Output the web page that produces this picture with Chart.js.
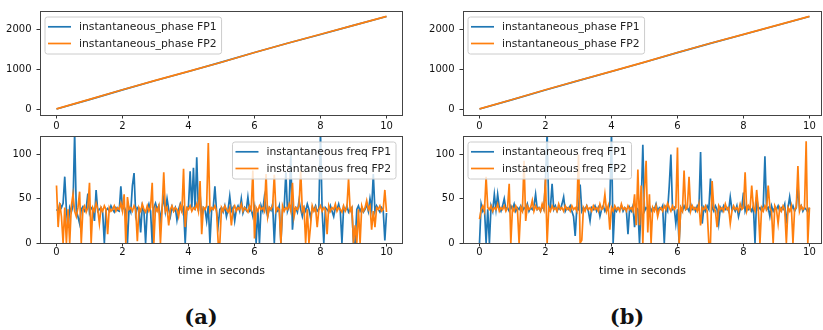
<!DOCTYPE html>
<html>
<head>
<meta charset="utf-8">
<script src="https://cdn.jsdelivr.net/npm/chart.js@4.4.1/dist/chart.umd.min.js"></script>
<style>
  html, body { margin:0; padding:0; background:#fff; width:823px; height:330px; overflow:hidden; }
  canvas { position:absolute; }
  .cap { position:absolute; font-family:"DejaVu Serif", serif; font-weight:bold; font-size:21px; color:#111; transform:translate(-50%,-50%); white-space:nowrap; }
</style>
</head>
<body>
<canvas id="tl" width="410" height="135" style="left:0px;top:0px"></canvas>
<canvas id="bl" width="410" height="155" style="left:0px;top:125px"></canvas>
<canvas id="tr" width="403" height="135" style="left:420px;top:0px"></canvas>
<canvas id="br" width="403" height="155" style="left:420px;top:125px"></canvas>
<div class="cap" style="left:201px;top:316px">(a)</div>
<div class="cap" style="left:627px;top:316px">(b)</div>
<script>
// ---------- data ----------
const phaseTimes = [0,1,2,3,4,5,6,7,8,9,10];
const phaseA_FP1 = [15,248,490,722,948,1180,1418,1648,1868,2092,2315];
const phaseA_FP2 = [18,252,494,725,950,1178,1420,1650,1872,2094,2318];
const phaseB_FP1 = [14,246,488,720,946,1176,1416,1646,1866,2090,2313];
const phaseB_FP2 = [17,250,492,724,949,1179,1419,1649,1870,2093,2317];

// sample times of the frequency series (0 .. 10 s, 0.05 s apart)
const freqTimes = Array.from({length: 201}, (_, i) => +(i * 0.05).toFixed(2));

const freqA_FP1 = [
  38,36,44,40,45,75,38,17,40,35,42,125,36,30,22,38,41,36,39,56,
  34,40,38,25,60,36,38,40,34,0,37,39,36,42,38,35,40,37,36,64,
  38,41,36,0,40,35,65,79,32,40,38,12,42,36,0,38,44,36,0,40,
  45,38,42,25,40,52,36,50,38,30,41,36,40,26,38,44,36,40,0,38,
  42,81,40,85,37,97,36,55,30,40,38,25,42,0,37,40,64,36,20,38,
  40,35,42,30,38,53,36,40,25,38,42,36,50,34,40,37,52,36,38,30,
  40,0,38,0,42,36,52,38,30,40,37,44,0,38,36,42,0,38,40,80,
  36,42,100,15,38,40,35,48,38,30,40,36,44,38,28,40,37,42,36,38,
  125,36,0,40,38,35,42,36,30,40,38,44,36,0,40,37,42,35,38,40,
  0,0,38,42,36,40,35,38,44,36,50,38,78,36,42,38,35,40,37,3,
  34];
const freqA_FP2 = [
  65,18,45,30,0,40,0,38,0,42,55,36,30,40,58,0,38,42,35,40,
  68,0,40,36,45,38,22,40,36,42,38,10,40,36,38,42,36,40,38,45,
  36,55,0,52,38,40,36,42,38,2,40,36,44,38,35,42,36,40,68,0,
  40,36,42,0,38,80,36,40,20,38,42,36,40,38,30,42,36,84,18,40,
  38,42,36,40,38,44,36,70,10,40,38,42,113,36,40,38,42,36,0,0,
  40,36,42,38,35,40,20,38,42,36,40,38,44,36,40,38,35,42,38,82,
  5,40,36,42,38,40,36,78,30,40,38,42,77,36,40,38,0,42,36,40,
  38,44,36,68,30,40,38,42,82,36,40,0,38,0,20,42,36,40,18,38,
  42,36,40,38,10,42,36,40,38,44,36,40,38,35,42,36,40,73,36,40,
  0,20,0,38,0,42,36,40,48,38,42,15,36,18,40,38,42,36,38,60,
  35];
const freqB_FP1 = [
  0,44,36,40,0,38,0,42,36,55,38,55,40,36,42,50,38,40,36,42,
  38,44,36,40,38,42,36,40,38,44,36,40,38,42,55,38,40,36,42,38,
  70,125,36,40,67,38,42,36,40,38,44,52,36,40,38,42,36,30,8,40,
  38,66,36,40,38,42,36,25,40,38,42,36,40,30,38,42,36,40,38,44,
  125,0,40,36,40,38,42,36,40,38,10,40,36,42,18,40,38,0,42,111,
  36,40,38,42,36,40,38,44,36,40,38,42,0,40,36,64,100,38,40,22,
  38,0,40,36,42,38,40,36,44,38,40,36,42,38,103,22,40,36,42,38,
  73,40,36,42,38,22,40,36,42,38,40,36,52,38,40,36,42,30,38,40,
  57,36,42,38,40,36,42,0,52,38,40,36,42,98,38,40,30,42,36,40,
  38,42,36,40,38,44,22,40,52,38,42,36,40,65,38,42,36,40,38,35,
  40];
const freqB_FP2 = [
  27,38,42,36,75,40,38,42,36,40,38,44,36,40,38,42,36,40,67,0,
  40,36,42,38,0,40,36,93,25,42,38,40,48,36,42,38,40,36,44,38,
  73,0,40,36,42,38,40,36,44,38,40,36,42,38,40,36,42,38,40,36,
  100,0,3,40,36,42,38,40,36,42,38,40,36,44,38,40,55,36,42,15,
  40,36,42,38,40,36,44,38,40,36,42,38,40,36,55,20,83,20,65,0,
  60,93,12,55,0,40,36,42,30,38,40,36,42,38,45,40,36,42,38,40,
  108,0,40,36,82,38,40,75,36,42,38,40,36,44,20,40,38,42,36,0,
  0,70,40,36,18,42,38,40,36,44,38,40,22,36,42,38,40,36,44,38,
  40,80,36,42,38,65,40,36,60,38,0,40,36,42,38,65,40,36,0,42,
  38,22,40,36,42,38,0,40,36,42,0,38,40,87,36,42,38,40,115,0,
  40];

const timeTicks  = [0,2,4,6,8,10];
const phaseTicks = [0,1000,2000];
const freqTicks  = [0,50,100];
const phaseLabels = ['instantaneous_phase FP1','instantaneous_phase FP2'];
const freqLabels  = ['instantaneous freq FP1','instantaneous freq FP2'];
const xTitle = 'time in seconds';

// ---------- styling ----------
const BLUE = '#1f77b4', ORANGE = '#ff7f0e';
Chart.defaults.font.family = '"DejaVu Sans", sans-serif';
Chart.defaults.color = '#111';

const framePlugin = {
  id: 'mplFrame',
  afterDatasetsDraw(chart) {
    const o = chart.options.plugins.mplFrame || {};
    const a = chart.chartArea, ctx = chart.ctx;
    // legend box
    ctx.save();
    ctx.font = '10.8px "DejaVu Sans"';
    const labels = chart.data.datasets.map(d => d.label);
    const tw = Math.max(...labels.map(l => ctx.measureText(l).width));
    const padL = 3, hl = 23, tp = 8, padR = 5;
    const w = padL + hl + tp + tw + padR, h = 37;
    const x = o.legend === 'right' ? a.right - 7 - w : a.left + 5;
    const y = a.top + 6;
    const r = 2.5;
    ctx.beginPath();
    ctx.moveTo(x + r, y);
    ctx.lineTo(x + w - r, y); ctx.quadraticCurveTo(x + w, y, x + w, y + r);
    ctx.lineTo(x + w, y + h - r); ctx.quadraticCurveTo(x + w, y + h, x + w - r, y + h);
    ctx.lineTo(x + r, y + h); ctx.quadraticCurveTo(x, y + h, x, y + h - r);
    ctx.lineTo(x, y + r); ctx.quadraticCurveTo(x, y, x + r, y);
    ctx.closePath();
    ctx.fillStyle = 'rgba(255,255,255,0.8)';
    ctx.fill();
    ctx.strokeStyle = '#cccccc'; ctx.lineWidth = 1;
    ctx.stroke();
    chart.data.datasets.forEach((d, i) => {
      const cy = y + 9.8 + i * 16.7;
      ctx.strokeStyle = d.borderColor; ctx.lineWidth = 1.7;
      ctx.beginPath(); ctx.moveTo(x + padL, cy); ctx.lineTo(x + padL + hl, cy); ctx.stroke();
      ctx.fillStyle = '#222'; ctx.textBaseline = 'middle'; ctx.textAlign = 'left';
      ctx.fillText(d.label, x + padL + hl + tp, cy + 0.5);
    });
    // axes frame
    ctx.strokeStyle = '#444'; ctx.lineWidth = 1;
    ctx.strokeRect(Math.round(a.left) + 0.5, Math.round(a.top) + 0.5,
                   Math.round(a.right - a.left) - 1, Math.round(a.bottom - a.top));
    ctx.restore();
  }
};

function makeChart(id, o) {
  const ctx = document.getElementById(id);
  return new Chart(ctx, {
    type: 'line',
    data: {
      labels: o.times,
      datasets: o.series.map((s, i) => ({
        label: o.labels[i], data: s,
        order: i === 0 ? 1 : 0,  // second series drawn on top, as in the original
        borderColor: i === 0 ? BLUE : ORANGE, backgroundColor: i === 0 ? BLUE : ORANGE,
        borderWidth: 1.7, pointRadius: 0, tension: 0, fill: false
      }))
    },
    options: {
      responsive: false, animation: false, events: [],
      layout: { padding: o.pad },
      plugins: { legend: { display: false }, tooltip: { enabled: false }, mplFrame: { legend: o.legendSide } },
      scales: {
        x: {
          type: 'linear', min: -0.5, max: o.xMax,
          afterBuildTicks: s => { s.ticks = timeTicks.map(v => ({ value: v })); },
          afterFit: s => { s.height = o.xH; },
          grid: { display: true, drawOnChartArea: false, drawTicks: true, tickLength: 3.5, tickColor: '#333', tickWidth: 1 },
          border: { display: false },
          ticks: { font: { size: 10 }, color: '#111', padding: o.xPad, maxRotation: 0, autoSkip: false, callback: v => String(v) },
          title: { display: !!o.title, text: xTitle, font: { size: 11 }, color: '#111', padding: { top: 0, bottom: 2.7 } }
        },
        y: {
          type: 'linear', min: o.yMin, max: o.yMax,
          afterBuildTicks: s => { s.ticks = o.yTicks.map(v => ({ value: v })); },
          afterFit: s => { s.width = o.yW; },
          grid: { display: true, drawOnChartArea: false, drawTicks: true, tickLength: 3.5, tickColor: '#333', tickWidth: 1 },
          border: { display: false },
          ticks: { font: { size: 10 }, color: '#111', padding: 5, callback: v => String(v) }
        }
      }
    },
    plugins: [framePlugin]
  });
}

makeChart('tl', { times: phaseTimes, series: [phaseA_FP1, phaseA_FP2], labels: phaseLabels,
  pad: { top: 6, left: 0, right: 7, bottom: 0 }, xMax: 10.5, xH: 20, xPad: 2,
  yMin: -135, yMax: 2451, yTicks: phaseTicks, yW: 40, legendSide: 'left' });
makeChart('bl', { times: freqTimes, series: [freqA_FP1, freqA_FP2], labels: freqLabels,
  pad: { top: 10, left: 0, right: 7, bottom: 0 }, xMax: 10.5, xH: 37, xPad: 0, title: true,
  yMin: 0, yMax: 121, yTicks: freqTicks, yW: 40, legendSide: 'right' });
makeChart('tr', { times: phaseTimes, series: [phaseB_FP1, phaseB_FP2], labels: phaseLabels,
  pad: { top: 6, left: 0, right: 1, bottom: 0 }, xMax: 10.38, xH: 20, xPad: 2,
  yMin: -135, yMax: 2451, yTicks: phaseTicks, yW: 43, legendSide: 'left' });
makeChart('br', { times: freqTimes, series: [freqB_FP1, freqB_FP2], labels: freqLabels,
  pad: { top: 10, left: 0, right: 1, bottom: 0 }, xMax: 10.38, xH: 37, xPad: 0, title: true,
  yMin: 0, yMax: 121, yTicks: freqTicks, yW: 43, legendSide: 'left' });
</script>
</body>
</html>
